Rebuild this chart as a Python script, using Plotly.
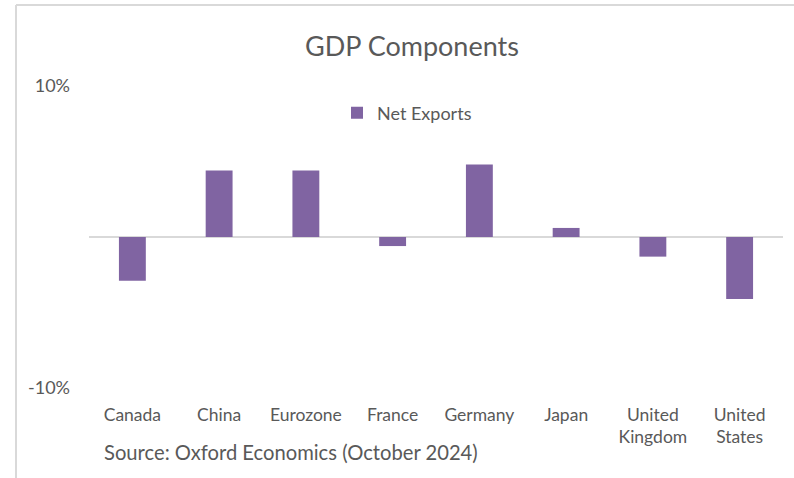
import plotly.graph_objects as go

# Net exports contribution by economy (% of GDP)
countries = ["Canada", "China", "Eurozone", "France", "Germany", "Japan",
             "United Kingdom", "United States"]
tick_labels = ["Canada", "China", "Eurozone", "France", "Germany", "Japan",
               "United<br>Kingdom", "United<br>States"]
net_exports = [-2.9, 4.4, 4.4, -0.6, 4.8, 0.6, -1.3, -4.1]

y_ticks = [-10, 0, 10]
y_tick_text = ["-10%", "", "10%"]

W, H = 794, 478
ML, MR, MT, MB = 89, 11, 86, 90
PW, PH = W - ML - MR, H - MT - MB


def px_x(x):
    return (x - ML) / PW


def px_y(y):
    return (H - MB - y) / PH


TEXT = "#595959"
GRID = "#D9D9D9"
FONT = "Lato, Carlito, Calibri, sans-serif"

fig = go.Figure()
fig.add_trace(go.Bar(
    x=countries,
    y=net_exports,
    name="Net Exports",
    marker=dict(color="#8064A2", line=dict(width=0)),
))

fig.update_layout(
    width=W, height=H,
    margin=dict(l=ML, r=MR, t=MT, b=MB),
    paper_bgcolor="white",
    plot_bgcolor="white",
    bargap=0.69,
    font=dict(family=FONT, color=TEXT, size=17.5),
    showlegend=True,
    legend=dict(
        orientation="h",
        x=px_x(337), xanchor="left",
        y=px_y(113), yanchor="middle",
        font=dict(size=18, color=TEXT),
        bgcolor="rgba(0,0,0,0)",
        itemwidth=30,
    ),
    xaxis=dict(
        tickmode="array",
        tickvals=countries,
        ticktext=tick_labels,
        showgrid=False,
        showline=False,
        ticks="",
        tickfont=dict(size=17.5, color=TEXT),
        ticklabelstandoff=14,
    ),
    yaxis=dict(
        range=[-10, 10],
        tickmode="array",
        tickvals=y_ticks,
        ticktext=y_tick_text,
        showgrid=True,
        gridcolor=GRID,
        gridwidth=1.5,
        zeroline=True,
        zerolinecolor=GRID,
        zerolinewidth=1.5,
        showline=False,
        ticks="",
        tickfont=dict(size=18, color=TEXT),
        ticklabelstandoff=18,
    ),
    annotations=[
        dict(text="GDP Components", x=px_x(412), y=px_y(45),
             xref="paper", yref="paper", xanchor="center", yanchor="middle",
             showarrow=False, font=dict(size=27, color=TEXT, family=FONT)),
        dict(text="Source: Oxford Economics (October 2024)",
             x=px_x(102), y=px_y(452), xref="paper", yref="paper",
             xanchor="left", yanchor="middle", showarrow=False,
             font=dict(size=20.2, color=TEXT, family=FONT)),
    ],
    shapes=[
        # outer chart frame (top and left edges)
        dict(type="line", xref="paper", yref="paper",
             x0=px_x(16), x1=px_x(W), y0=px_y(5), y1=px_y(5),
             line=dict(color=GRID, width=2)),
        dict(type="line", xref="paper", yref="paper",
             x0=px_x(16), x1=px_x(16), y0=px_y(5), y1=px_y(H),
             line=dict(color=GRID, width=2)),
    ],
)

fig.write_html("out.html")
